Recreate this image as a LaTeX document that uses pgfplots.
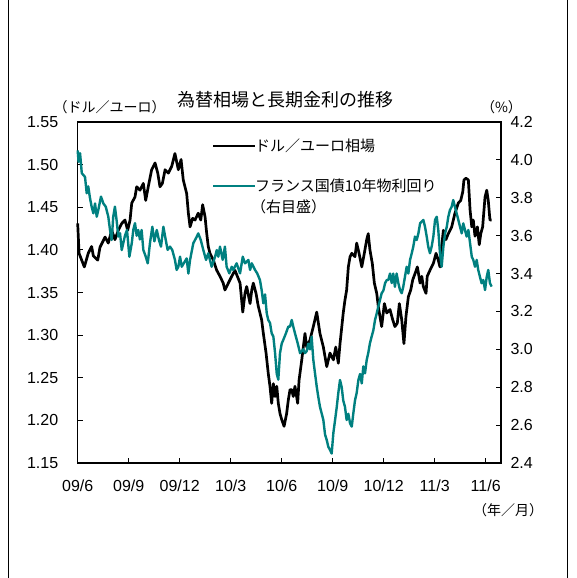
\documentclass[border=0pt]{standalone}
\usepackage{pgfplots}
\pgfplotsset{compat=1.18}
\usepackage{pgfplotstable}
\usepackage{fontspec}
\setmainfont{Liberation Sans}
\newfontfamily\jp{Noto Sans CJK JP}
\definecolor{tealc}{RGB}{0,128,128}

\pgfplotstableread{
m v
0.00 1.431
0.08 1.396
0.39 1.380
0.62 1.396
0.82 1.404
0.92 1.393
1.18 1.388
1.31 1.403
1.61 1.415
1.80 1.408
2.00 1.423
2.19 1.412
2.39 1.423
2.59 1.431
2.78 1.435
2.94 1.423
3.08 1.435
3.18 1.455
3.37 1.462
3.47 1.474
3.66 1.470
3.86 1.478
4.00 1.458
4.15 1.474
4.35 1.494
4.55 1.502
4.71 1.490
4.84 1.474
4.98 1.478
5.14 1.494
5.33 1.490
5.53 1.498
5.72 1.513
5.92 1.494
6.08 1.506
6.21 1.482
6.41 1.466
6.51 1.443
6.61 1.427
6.76 1.437
6.90 1.435
7.09 1.443
7.24 1.435
7.35 1.453
7.49 1.439
7.59 1.419
7.68 1.404
7.78 1.396
7.98 1.388
8.18 1.376
8.37 1.369
8.56 1.361
8.66 1.353
8.86 1.361
9.06 1.369
9.25 1.376
9.39 1.369
9.55 1.361
9.71 1.327
9.84 1.349
9.94 1.357
10.14 1.337
10.24 1.353
10.33 1.361
10.49 1.349
10.62 1.334
10.82 1.318
10.92 1.302
11.08 1.279
11.21 1.255
11.31 1.240
11.41 1.220
11.51 1.243
11.61 1.228
11.71 1.240
11.80 1.220
11.90 1.208
12.00 1.201
12.14 1.193
12.29 1.208
12.39 1.224
12.49 1.236
12.59 1.236
12.68 1.228
12.78 1.240
12.94 1.220
13.02 1.247
13.18 1.271
13.27 1.286
13.37 1.302
13.47 1.286
13.66 1.294
13.86 1.310
14.06 1.327
14.25 1.302
14.45 1.286
14.65 1.263
14.84 1.279
15.04 1.271
15.18 1.286
15.33 1.267
15.43 1.290
15.62 1.326
15.72 1.341
15.82 1.353
15.92 1.380
16.02 1.392
16.12 1.396
16.31 1.392
16.41 1.408
16.55 1.396
16.71 1.380
16.86 1.396
17.00 1.412
17.09 1.419
17.19 1.400
17.33 1.384
17.45 1.361
17.59 1.349
17.68 1.334
17.78 1.322
17.88 1.310
18.04 1.337
18.18 1.326
18.37 1.330
18.53 1.318
18.66 1.310
18.80 1.314
18.92 1.337
19.06 1.318
19.19 1.290
19.31 1.322
19.45 1.345
19.59 1.353
19.71 1.365
19.84 1.372
19.98 1.380
20.14 1.361
20.24 1.369
20.33 1.357
20.49 1.349
20.56 1.369
20.72 1.376
20.92 1.384
21.08 1.396
21.21 1.388
21.31 1.380
21.41 1.404
21.51 1.423
21.66 1.412
21.80 1.419
22.00 1.427
22.19 1.443
22.39 1.455
22.53 1.458
22.65 1.468
22.72 1.482
22.84 1.484
22.98 1.482
23.08 1.447
23.18 1.427
23.27 1.435
23.37 1.416
23.51 1.427
23.62 1.406
23.71 1.419
23.82 1.427
23.96 1.462
24.06 1.470
24.15 1.458
24.25 1.435
24.35 1.435
}\usdeur

\pgfplotstableread{
m v
0.00 4.050
0.05 3.990
0.14 4.035
0.24 3.930
0.43 3.910
0.53 3.824
0.62 3.860
0.72 3.800
0.82 3.753
0.92 3.718
1.02 3.770
1.12 3.700
1.21 3.735
1.37 3.806
1.51 3.770
1.65 3.753
1.80 3.700
1.90 3.630
2.00 3.577
2.09 3.700
2.19 3.753
2.29 3.680
2.39 3.595
2.49 3.613
2.59 3.524
2.68 3.560
2.78 3.600
2.90 3.630
3.04 3.489
3.18 3.560
3.27 3.630
3.37 3.666
3.47 3.600
3.56 3.630
3.66 3.580
3.76 3.630
3.86 3.525
4.00 3.490
4.12 3.454
4.25 3.560
4.39 3.647
4.51 3.570
4.65 3.630
4.78 3.577
4.90 3.542
5.04 3.647
5.18 3.577
5.29 3.525
5.43 3.542
5.56 3.525
5.72 3.472
5.82 3.419
5.92 3.436
6.02 3.489
6.12 3.436
6.21 3.450
6.41 3.480
6.51 3.400
6.61 3.472
6.80 3.560
7.00 3.594
7.09 3.612
7.24 3.577
7.39 3.524
7.55 3.472
7.68 3.507
7.78 3.472
7.88 3.436
8.08 3.489
8.18 3.524
8.27 3.489
8.37 3.542
8.53 3.472
8.66 3.542
8.76 3.436
8.92 3.401
9.06 3.436
9.15 3.419
9.35 3.454
9.55 3.401
9.71 3.489
9.84 3.454
10.04 3.472
10.14 3.419
10.24 3.454
10.43 3.419
10.56 3.401
10.72 3.366
10.82 3.313
10.92 3.243
11.02 3.290
11.12 3.190
11.21 3.155
11.31 3.140
11.41 3.085
11.51 3.067
11.61 2.980
11.71 2.870
11.80 2.840
11.90 2.980
12.00 3.030
12.09 3.049
12.25 3.085
12.39 3.120
12.49 3.120
12.59 3.155
12.68 3.120
12.78 3.085
12.94 3.032
13.08 2.980
13.18 2.990
13.27 3.000
13.37 2.980
13.47 2.990
13.56 3.030
13.66 3.000
13.76 3.067
13.86 2.944
13.96 2.873
14.06 2.803
14.15 2.750
14.25 2.697
14.35 2.662
14.45 2.627
14.55 2.550
14.65 2.521
14.74 2.486
14.84 2.469
14.94 2.450
15.04 2.560
15.14 2.627
15.24 2.697
15.33 2.770
15.43 2.838
15.53 2.800
15.62 2.730
15.72 2.697
15.82 2.627
15.92 2.660
16.02 2.610
16.12 2.592
16.21 2.660
16.31 2.730
16.41 2.770
16.51 2.838
16.61 2.870
16.71 2.820
16.80 2.910
16.90 2.873
17.00 2.944
17.09 2.980
17.19 3.032
17.29 3.067
17.39 3.100
17.49 3.155
17.59 3.190
17.68 3.225
17.78 3.260
17.88 3.296
17.98 3.310
18.08 3.349
18.18 3.366
18.27 3.366
18.37 3.400
18.47 3.350
18.56 3.400
18.66 3.330
18.76 3.400
18.86 3.350
18.96 3.313
19.06 3.296
19.15 3.330
19.25 3.383
19.35 3.436
19.45 3.400
19.55 3.472
19.65 3.507
19.74 3.542
19.84 3.595
19.94 3.577
20.04 3.612
20.14 3.665
20.24 3.675
20.33 3.683
20.43 3.647
20.53 3.595
20.62 3.542
20.72 3.507
20.82 3.542
20.92 3.595
21.02 3.683
21.12 3.700
21.21 3.630
21.31 3.507
21.41 3.436
21.51 3.542
21.61 3.612
21.71 3.647
21.80 3.700
21.90 3.736
22.00 3.753
22.09 3.788
22.19 3.753
22.29 3.718
22.39 3.683
22.49 3.647
22.59 3.612
22.68 3.665
22.78 3.630
22.88 3.595
22.98 3.630
23.08 3.560
23.18 3.489
23.27 3.472
23.37 3.436
23.47 3.472
23.56 3.419
23.66 3.383
23.76 3.349
23.86 3.366
23.96 3.313
24.06 3.383
24.15 3.419
24.25 3.349
24.35 3.331
}\oat

\begin{document}
\begin{tikzpicture}

\pgfplotsset{
  common/.style={
    at={(77.7pt,115pt)}, anchor=south west,
    scale only axis, width=423.3pt, height=341pt,
    xmin=0, xmax=24.9,
    tick align=inside, major tick length=5pt,
    tick style={black, line width=0.9pt},
    /pgf/number format/assume math mode=true,
    ticklabel style={font=\fontsize{16}{16}\selectfont},
    clip=false,
  }
}

\begin{axis}[common,
  axis line style={line width=1.3pt},
  ymin=1.15, ymax=1.55,
  xtick pos=left, ytick pos=left,
  xtick={0,3,6,9,12,15,18,21,24},
  xticklabels={09/6,09/9,09/12,10/3,10/6,10/9,10/12,11/3,11/6},
  ytick={1.15,1.2,1.25,1.3,1.35,1.4,1.45,1.5,1.55},
  yticklabel style={/pgf/number format/fixed, /pgf/number format/fixed zerofill, /pgf/number format/precision=2, xshift=-16pt},
  xticklabel style={yshift=-13pt},
]
\addplot[black, line width=2.7pt, line join=round, no markers] table[x=m,y=v]{\usdeur};
\end{axis}

\begin{axis}[common,
  axis x line=none, axis y line*=right,
  axis line style={line width=1.3pt},
  ymin=2.4, ymax=4.2,
  ytick={2.4,2.6,2.8,3.0,3.2,3.4,3.6,3.8,4.0,4.2},
  yticklabel style={/pgf/number format/fixed, /pgf/number format/fixed zerofill, /pgf/number format/precision=1, xshift=6pt},
]
\addplot[tealc, line width=2.4pt, line join=round, no markers] table[x=m,y=v]{\oat};
\end{axis}

\begin{scope}[x=1pt,y=1pt]
\draw[line width=1.6pt] (8.5,0) -- (8.5,578);
\draw[line width=1.6pt] (567.5,0) -- (567.5,578);
% legend
\draw[black, line width=2.7pt] (213,432) -- (255,432);
\node[anchor=west, inner sep=0pt, font=\jp\fontsize{15}{15}\selectfont] at (255,432) {ドル／ユーロ相場};
\draw[tealc, line width=2.4pt] (213,392) -- (255,392);
\node[anchor=west, inner sep=0pt, font=\jp\fontsize{15}{15}\selectfont] at (255,392) {フランス国債10年物利回り};
\node[anchor=west, inner sep=0pt, font=\jp\fontsize{15}{15}\selectfont] at (251,371) {（右目盛）};
% titles and units
\node[font=\jp\fontsize{18}{18}\selectfont] at (285.5,478) {為替相場と長期金利の推移};
\node[font=\jp\fontsize{14}{14}\selectfont] at (109.5,470.5) {（ドル／ユーロ）};
\node[font=\jp\fontsize{14}{14}\selectfont] at (501.5,470.5) {（\%）};
\node[font=\jp\fontsize{14}{14}\selectfont] at (508,67.5) {（年／月）};
\pgfresetboundingbox
\useasboundingbox (0,0) rectangle (576,578);
\end{scope}
\end{tikzpicture}
\end{document}
